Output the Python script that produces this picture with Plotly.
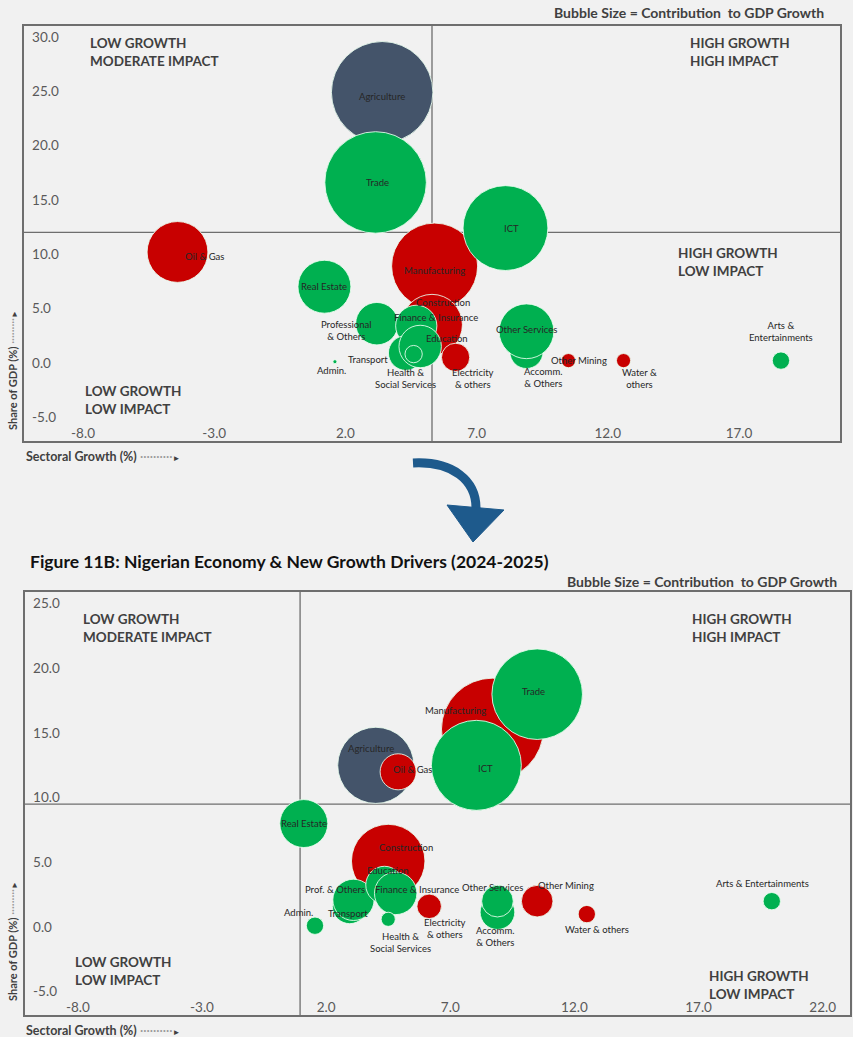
import plotly.graph_objects as go

W, H = 853, 1037

# ---------------- Top panel (earlier period) ----------------
sectors_top = ["Agriculture", "Trade", "Manufacturing", "ICT", "Oil & Gas", "Real Estate",
               "Construction", "Professional & Others", "Finance & Insurance", "Transport",
               "Education", "Health & Social Services", "Admin.", "Electricity & others",
               "Accomm. & Others", "Other Services", "Other Mining", "Water & others",
               "Arts & Entertainments"]
growth_top = [3.4, 3.15, 5.4, 8.1, -4.4, 1.2, 5.3, 3.2, 4.7, 4.3, 4.85, 4.6, 1.6, 6.2,
              8.9, 8.9, 10.5, 12.6, 18.6]
share_top = [24.9, 16.6, 8.9, 12.4, 10.2, 7.0, 3.5, 3.6, 3.4, 0.9, 1.5, 0.8, 0.1, 0.5,
             1.0, 2.9, 0.2, 0.2, 0.2]
contrib_top = [1.03, 1.03, 0.74, 0.72, 0.37, 0.28, 0.37, 0.18, 0.17, 0.12, 0.18, 0.03,
               0.001, 0.08, 0.11, 0.30, 0.02, 0.02, 0.03]
group_top = ["anchor", "up", "down", "up", "down", "up", "down", "up", "up", "up", "up",
             "up", "up", "down", "up", "up", "down", "down", "up"]
labels_top = ["Agriculture", "Trade", "Manufacturing", "ICT", "Oil & Gas", "Real Estate",
              "Construction", "Professional<br>& Others", "Finance & Insurance", "Transport",
              "Education", "Health &<br>Social Services", "Admin.", "Electricity<br>& others",
              "Accomm.<br>& Others", "Other Services", "Other Mining", "Water &<br>others",
              "Arts &<br>Entertainments"]
growth_split_top = 5.3
share_split_top = 12.0
xticks_top = [-8, -3, 2, 7, 12, 17]
xticktext_top = ["-8.0", "-3.0", "2.0", "7.0", "12.0", "17.0"]
yticks_top = [-5, 0, 5, 10, 15, 20, 25, 30]
yticktext_top = ["-5.0", "0.0", "5.0", "10.0", "15.0", "20.0", "25.0", "30.0"]

# ---------------- Bottom panel (2024-2025) ----------------
sectors_bot = ["Manufacturing", "ICT", "Trade", "Agriculture", "Oil & Gas", "Real Estate",
               "Construction", "Transport", "Professional & Others", "Education",
               "Finance & Insurance", "Health & Social Services", "Admin.",
               "Electricity & others", "Accomm. & Others", "Other Services", "Other Mining",
               "Water & others", "Arts & Entertainments"]
growth_bot = [8.7, 8.05, 10.5, 4.0, 4.9, 1.1, 4.5, 2.95, 3.1, 4.35, 4.8, 4.5, 1.55, 6.15,
              8.9, 8.9, 10.5, 12.5, 19.95]
share_bot = [15.3, 12.5, 18.0, 12.5, 12.0, 8.0, 5.1, 1.6, 2.1, 3.25, 2.6, 0.6, 0.1, 1.6,
             1.15, 2.0, 2.0, 1.0, 2.0]
contrib_bot = [1.04, 0.81, 0.82, 0.58, 0.13, 0.23, 0.54, 0.12, 0.17, 0.14, 0.18, 0.02,
               0.03, 0.06, 0.12, 0.10, 0.10, 0.03, 0.03]
group_bot = ["down", "up", "up", "anchor", "down", "up", "down", "up", "up", "up", "up",
             "up", "up", "down", "up", "up", "down", "down", "up"]
labels_bot = ["Manufacturing", "ICT", "Trade", "Agriculture", "Oil & Gas", "Real Estate",
              "Construction", "Transport", "Prof. & Others", "Education",
              "Finance & Insurance", "Health &<br>Social Services", "Admin.",
              "Electricity<br>& others", "Accomm.<br>& Others", "Other Services",
              "Other Mining", "Water & others", "Arts & Entertainments"]
growth_split_bot = 0.95
share_split_bot = 9.5
xticks_bot = [-8, -3, 2, 7, 12, 17, 22]
xticktext_bot = ["-8.0", "-3.0", "2.0", "7.0", "12.0", "17.0", "22.0"]
yticks_bot = [-5, 0, 5, 10, 15, 20, 25]
yticktext_bot = ["-5.0", "0.0", "5.0", "10.0", "15.0", "20.0", "25.0"]

# ---------------- styles ----------------
COLORS = {"up": "#00B050", "down": "#C80000", "anchor": "#44546A"}
FONT = "Lato, 'Open Sans', sans-serif"
TXT = "#404040"
BG = "#F1F1F1"
AXC = "#6E6E6E"

# label offsets in screen pixels (dx right, dy down)
off_top = {"Agriculture": (0, 4), "Trade": (2, 0), "Manufacturing": (0, 4), "ICT": (6, 0),
           "Oil & Gas": (27, 5), "Real Estate": (0, 0), "Construction": (11, -22),
           "Professional & Others": (-30, 7), "Finance & Insurance": (20, -8),
           "Transport": (-38, 6), "Education": (27, -8), "Health & Social Services": (-8, 24),
           "Admin.": (-3, 9), "Electricity & others": (17, 21), "Accomm. & Others": (17, 26),
           "Other Services": (0, -2), "Other Mining": (11, 0), "Water & others": (16, 18),
           "Arts & Entertainments": (0, -29)}
off_bot = {"Trade": (-4, -3), "Manufacturing": (-37, -19), "ICT": (9, 3),
           "Agriculture": (-5, -17), "Oil & Gas": (14, -2), "Real Estate": (0, 0),
           "Construction": (18, -14), "Education": (4, -15), "Finance & Insurance": (21, -4),
           "Professional & Others": (-18, -10), "Transport": (-2, 7), "Admin.": (-16, -13),
           "Health & Social Services": (12, 23), "Electricity & others": (16, 22),
           "Accomm. & Others": (-2, 24), "Other Services": (-5, -14),
           "Other Mining": (29, -16), "Water & others": (10, 15),
           "Arts & Entertainments": (-9, -18)}


def PX(x):
    return x / W


def PY(y):
    return 1 - y / H


fig = go.Figure()
annotations = []
shapes = []


def add_panel(sectors, growth, share, contrib, groups, labels, offsets, xa, ya):
    fig.add_trace(go.Scatter(
        x=growth, y=share, mode="markers", xaxis=xa, yaxis=ya,
        text=sectors, hoverinfo="text",
        marker=dict(size=contrib, sizemode="area", sizeref=2.0 / (100 ** 2), sizemin=2,
                    color=[COLORS[g] for g in groups], opacity=1,
                    line=dict(color="rgba(235,255,240,0.85)", width=1)),
        showlegend=False))
    xr = "x" if xa == "x" else "x2"
    yr = "y" if ya == "y" else "y2"
    for s, gx, sy, lab in zip(sectors, growth, share, labels):
        dx, dy = offsets[s]
        annotations.append(dict(x=gx, y=sy, xref=xr, yref=yr, text=lab, showarrow=False,
                                xshift=dx, yshift=-dy, align="center",
                                font=dict(family=FONT, size=9.5, color="#262626")))


add_panel(sectors_top, growth_top, share_top, contrib_top, group_top, labels_top, off_top, "x", "y")
add_panel(sectors_bot, growth_bot, share_bot, contrib_bot, group_bot, labels_bot, off_bot, "x2", "y2")

# quadrant split lines
for xr, yr, gs, ss in [("x", "y", growth_split_top, share_split_top),
                       ("x2", "y2", growth_split_bot, share_split_bot)]:
    shapes.append(dict(type="line", xref=xr, yref=yr + " domain", x0=gs, x1=gs, y0=0, y1=1,
                       line=dict(color=AXC, width=1.3), layer="below"))
    shapes.append(dict(type="line", xref=xr + " domain", yref=yr, x0=0, x1=1, y0=ss, y1=ss,
                       line=dict(color=AXC, width=1.3), layer="below"))

# quadrant text
quad = [
    ("LOW GROWTH<br>MODERATE IMPACT", 88, 52), ("HIGH GROWTH<br>HIGH IMPACT", 688, 52),
    ("HIGH GROWTH<br>LOW IMPACT", 676, 262), ("LOW GROWTH<br>LOW IMPACT", 83, 400),
    ("LOW GROWTH<br>MODERATE IMPACT", 81, 628), ("HIGH GROWTH<br>HIGH IMPACT", 690, 628),
    ("LOW GROWTH<br>LOW IMPACT", 73, 971), ("HIGH GROWTH<br>LOW IMPACT", 707, 985),
]
for t, x, y in quad:
    annotations.append(dict(x=PX(x), y=PY(y), xref="paper", yref="paper", text="<b>%s</b>" % t,
                            showarrow=False, xanchor="left", yanchor="middle", align="left",
                            font=dict(family=FONT, size=13.5, color=TXT)))

# bubble size notes
for xr_, y in [(826, 13), (839, 581)]:
    annotations.append(dict(x=PX(xr_), y=PY(y), xref="paper", yref="paper",
                            text="<b>Bubble Size = Contribution  to GDP Growth</b>",
                            showarrow=False, xanchor="right", yanchor="middle",
                            font=dict(family=FONT, size=14, color=TXT)))

# title of second figure
annotations.append(dict(x=PX(28), y=PY(561), xref="paper", yref="paper",
                        text="<b>Figure 11B: Nigerian Economy & New Growth Drivers (2024-2025)</b>",
                        showarrow=False, xanchor="left", yanchor="middle",
                        font=dict(family=FONT, size=17.5, color="#111111")))

# axis titles
for y in [457, 1030]:
    annotations.append(dict(x=PX(24), y=PY(y), xref="paper", yref="paper",
                            text="<b>Sectoral Growth (%)</b> <span style='color:#9a9a9a'>··········</span><span style='font-size:8px'>►</span>",
                            showarrow=False, xanchor="left", yanchor="middle",
                            font=dict(family=FONT, size=12.5, color=TXT)))
for y in [370, 941]:
    annotations.append(dict(x=PX(12), y=PY(y), xref="paper", yref="paper", textangle=-90,
                            text="<b>Share of GDP (%)</b> <span style='color:#9a9a9a'>·········</span><span style='font-size:8px'>►</span>",
                            showarrow=False, xanchor="center", yanchor="middle",
                            font=dict(family=FONT, size=11, color=TXT)))

# curved arrow between the panels
ARROW = "#1E5A8C"
shapes.append(dict(type="path", xref="paper", yref="paper",
                   path="M %f,%f C %f,%f %f,%f %f,%f" % (PX(413), PY(463), PX(452), PY(461),
                                                         PX(477), PY(480), PX(476), PY(510)),
                   line=dict(color=ARROW, width=9), fillcolor="rgba(0,0,0,0)"))
shapes.append(dict(type="path", xref="paper", yref="paper",
                   path="M %f,%f L %f,%f L %f,%f Z" % (PX(447), PY(505), PX(504), PY(510),
                                                      PX(473), PY(542)),
                   line=dict(color=ARROW, width=1), fillcolor=ARROW))

axis_common = dict(showgrid=False, zeroline=False, showline=True, mirror=True,
                   linecolor=AXC, linewidth=1.6, ticks="", ticklabelposition="inside",
                   tickfont=dict(family=FONT, size=13.5, color="#595959"), fixedrange=True)

fig.update_layout(
    width=W, height=H, autosize=False,
    margin=dict(l=0, r=0, t=0, b=0),
    paper_bgcolor=BG, plot_bgcolor=BG,
    xaxis=dict(domain=[24 / W, 840 / W], range=[-10.25, 20.85], anchor="y",
               tickvals=xticks_top, ticktext=xticktext_top, **axis_common),
    yaxis=dict(domain=[1 - 441 / H, 1 - 26 / H], range=[-7.2, 31.0], anchor="x",
               tickvals=yticks_top, ticktext=yticktext_top, ticklabelstandoff=8, **axis_common),
    xaxis2=dict(domain=[25 / W, 850 / W], range=[-10.13, 23.1], anchor="y2",
                tickvals=xticks_bot, ticktext=xticktext_bot, **axis_common),
    yaxis2=dict(domain=[1 - 1015 / H, 1 - 592 / H], range=[-6.8, 25.9], anchor="x2",
                tickvals=yticks_bot, ticktext=yticktext_bot, ticklabelstandoff=8, **axis_common),
    annotations=annotations,
    shapes=shapes,
)

fig.write_html("out.html")
